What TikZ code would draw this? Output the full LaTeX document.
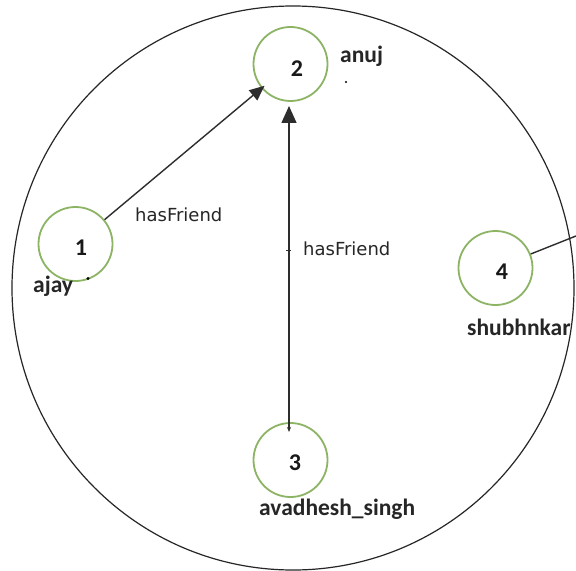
\documentclass[tikz,border=0pt]{standalone}
\usepackage{fontspec}
\setmainfont{Carlito}
\newfontfamily\edgefont{DejaVu Sans}
\usetikzlibrary{arrows.meta}
\definecolor{nodegreen}{RGB}{140,180,100}
\definecolor{edgegray}{RGB}{45,45,45}
\tikzset{
  vertex/.style={circle, draw=nodegreen, line width=1.8bp, minimum size=74bp, inner sep=0pt},
  numtext/.style={inner sep=0pt, font=\fontsize{24bp}{26bp}\selectfont\bfseries, text=black!90},
  nametext/.style={inner sep=0pt, anchor=base west, font=\fontsize{23.5bp}{25bp}\selectfont\bfseries, text=black!85},
  reltext/.style={inner sep=0pt, anchor=base west, font=\edgefont\fontsize{18bp}{20bp}\selectfont, text=black!85},
  link/.style={draw=edgegray, line width=1.4bp},
  bigtip/.style={-{Triangle[length=15bp,width=13bp]}},
}
\begin{document}
\begin{tikzpicture}[x=1bp,y=-1bp]
\useasboundingbox (0,0) rectangle (576,571);
\fill[white] (0,0) rectangle (576,571);
% outer circle
\draw[line width=1.2bp, black!85] (293,288) ellipse [x radius=281, y radius=282];
% vertices
\node[vertex] (n2) at (290.5,64) {};
\node[vertex] (n1) at (75.5,244) {};
\node[vertex] (n4) at (495.5,268) {};
\node[vertex] (n3) at (290.5,460) {};
% numbers
\node[numtext] (t2) at (297,69) {2};
\node[numtext] (t1) at (81,248) {1};
\node[numtext] (t4) at (502,272) {4};
\node[numtext] (t3) at (295,463) {3};
% names
\node[nametext] (l2) at (340,63) {anuj};
\node[nametext] (l1) at (33,292) {ajay};
\node[nametext] (l4) at (467,335) {shubhnkar};
\node[nametext] (l3) at (259,515) {avadhesh\_singh};
% connectors
\draw[link, bigtip, shorten >=-4bp] (n1) -- (n2);
\coordinate (p3) at (289,432);
\coordinate (p2) at (289,106);
\draw[link, {Stealth[length=5bp,width=4bp]}-{Triangle[length=17bp,width=15bp]}] (p3) -- (p2);
\coordinate (c4) at (576,236);
\draw[link] (n4) -- (c4);
% edge labels
\node[reltext] (r1) at (135,221) {hasFriend};
\node[reltext] (r2) at (303,255) {hasFriend};
% small marks
\draw[link, line width=1bp] (286,250) -- (291,250);
\fill[black] (88,278.5) circle (1.7bp);
\fill[black] (346,82) circle (1.2bp);
\end{tikzpicture}
\end{document}
